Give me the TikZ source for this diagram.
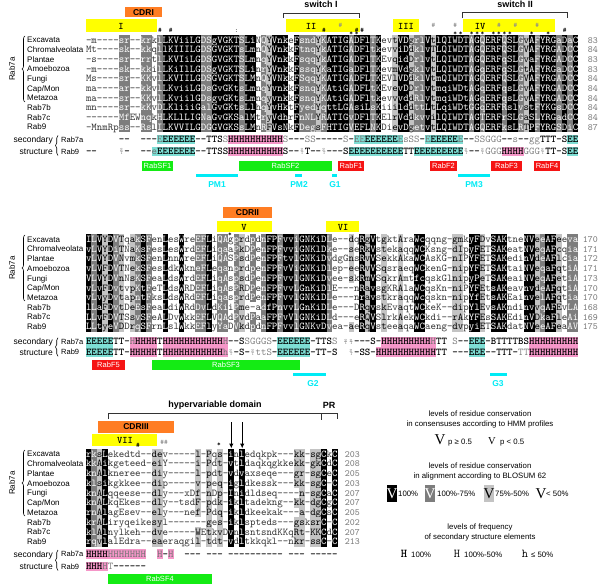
\documentclass[tikz,border=0pt]{standalone}
\usepackage{fontspec}
\setmainfont{Liberation Sans}
\newfontfamily\serifV{Liberation Serif}
\usetikzlibrary{decorations.pathreplacing,arrows.meta}
\definecolor{cyel}{RGB}{255,255,0}
\definecolor{corg}{RGB}{255,125,35}
\definecolor{cgrn}{RGB}{20,235,20}
\definecolor{cred}{RGB}{245,20,20}
\definecolor{ccyb}{RGB}{0,235,245}
\definecolor{csse}{RGB}{125,222,212}
\definecolor{cssh}{RGB}{245,150,200}
\definecolor{cgd}{RGB}{125,125,125}
\definecolor{cgl}{RGB}{195,195,195}
\def\cw{5.47}
\tikzset{
  seqc/.style={anchor=base,inner sep=0pt,font=\fontsize{10.4}{10}\ttfamily},
  ssb/.style={anchor=base,inner sep=0pt,font=\fontsize{10.4}{10}\ttfamily\bfseries,text=black},
  labf/.style={anchor=base west,inner sep=0pt,font=\fontsize{8}{9}\selectfont},
  numf/.style={anchor=base east,inner sep=0pt,font=\fontsize{9.5}{10}\ttfamily,text=black!55},
  boxlab/.style={inner sep=0pt,font=\fontsize{8.5}{9}\selectfont\bfseries},
  romlab/.style={inner sep=0pt,font=\fontsize{10}{10}\ttfamily\bfseries},
  featlab/.style={inner sep=0pt,text=white,font=\fontsize{7.5}{8}\selectfont},
  cylab/.style={inner sep=0pt,text=ccyb,font=\fontsize{8.5}{9}\selectfont\bfseries},
  legf/.style={inner sep=0pt,font=\fontsize{7.8}{9}\selectfont},
  brk/.style={line width=0.8pt,black!80},
  markb/.style={inner sep=0pt,font=\fontsize{7}{7}\ttfamily\bfseries},
  markg/.style={inner sep=0pt,font=\fontsize{7}{7}\ttfamily\bfseries,text=black!45},
}
\newcommand\cellbox[3]{\fill[#1] ({#2-2.76},{#3-4.87}) rectangle ({#2+2.76},{#3+4.87});}
\newcommand\cellb[3]{\cellbox{black}{#1}{#2}\node[seqc,text=white] at (#1,{#2+3.2}) {#3};}
\newcommand\celld[3]{\cellbox{cgd}{#1}{#2}\node[seqc,text=white] at (#1,{#2+3.2}) {#3};}
\newcommand\celll[3]{\cellbox{cgl}{#1}{#2}\node[seqc,text=black] at (#1,{#2+3.2}) {#3};}
\newcommand\celln[3]{\node[seqc,text=black!80] at (#1,{#2+3.2}) {#3};}
\newcommand\rssE[3]{\cellbox{csse}{#1}{#2}\node[ssb] at (#1,{#2+3.2}) {E};}
\newcommand\rssF[3]{\cellbox{csse}{#1}{#2}\node[seqc,text=black!55] at (#1,{#2+3.2}) {E};}
\newcommand\rsse[3]{\cellbox{csse}{#1}{#2}\node[seqc,text=black!55] at (#1,{#2+3.2}) {e};}
\newcommand\rssH[3]{\cellbox{cssh}{#1}{#2}\node[ssb] at (#1,{#2+3.2}) {H};}
\newcommand\rssI[3]{\cellbox{cssh}{#1}{#2}\node[seqc,text=black!55] at (#1,{#2+3.2}) {H};}
\newcommand\rssh[3]{\cellbox{cssh}{#1}{#2}\node[seqc,text=black!55] at (#1,{#2+3.2}) {h};}
\newcommand\rssx[3]{\node[seqc,text=black!50] at (#1,{#2+3.2}) {S};}
\newcommand\rssy[3]{\node[seqc,text=black!50] at (#1,{#2+3.2}) {T};}
\newcommand\rssz[3]{\node[seqc,text=black!50] at (#1,{#2+3.2}) {G};}
\newcommand\rssgray[3]{\node[seqc,text=black!50] at (#1,{#2+3.2}) {#3};}
\newcommand\rssbold[3]{\node[ssb] at (#1,{#2+3.2}) {#3};}
\newcommand\rssnone[3]{}
\newcommand\rssw[3]{\node[inner sep=0pt,text=black!50,font=\fontsize{5}{5}\ttfamily] at (#1,#2) {\raisebox{1.3pt}{S}\kern-2.2pt\raisebox{-1.3pt}{T}};}

\ExplSyntaxOn
\int_new:N \l__rs_col_int
\tl_new:N \l__rs_x_tl
\tl_new:N \l__rs_code_tl
\str_new:N \l__rs_codes_str
\cs_generate_variant:Nn \str_case:nnF { V }
\NewDocumentCommand \seqrow { m m m m }
  {
    \int_zero:N \l__rs_col_int
    \str_set:Nx \l__rs_codes_str {#4}
    \str_map_inline:nn {#3}
      {
        \int_incr:N \l__rs_col_int
        \tl_set:Nx \l__rs_x_tl { \fp_eval:n { #1 + ( \l__rs_col_int - 0.5 ) * \cw } }
        \tl_set:Nx \l__rs_code_tl { \str_item:Nn \l__rs_codes_str { \l__rs_col_int } }
        \str_if_eq:nnTF {##1} {-}
          { \celln }
          { \str_case:VnF \l__rs_code_tl { {b}{\cellb} {d}{\celld} {l}{\celll} } { \celln } }
          { \l__rs_x_tl } {#2} {##1}
      }
  }
\NewDocumentCommand \ssrow { m m m }
  {
    \int_zero:N \l__rs_col_int
    \str_map_inline:nn {#3}
      {
        \int_incr:N \l__rs_col_int
        \tl_set:Nx \l__rs_x_tl { \fp_eval:n { #1 + ( \l__rs_col_int - 0.5 ) * \cw } }
        \str_case:nnF {##1}
          { {E}{\rssE} {F}{\rssF} {e}{\rsse} {H}{\rssH} {I}{\rssI} {h}{\rssh}
            {x}{\rssx} {y}{\rssy} {z}{\rssz} {w}{\rssw} {.}{\rssnone}
            {s}{\rssgray} {t}{\rssgray} {g}{\rssgray} }
          { \rssbold }
          { \l__rs_x_tl } {#2} {##1}
      }
  }
\ExplSyntaxOff

\def\codeA{nnnnnnddnnddndbbbbbbbddbbbbbdbbndlbbbnbdddldbbbbdbbbdbnnlbblddblbbbbbbdbdbbbdbbdlbdbbbdbdb}
\def\codeB{bdblbdlnldbdnnbnnbnnddbnddndlndndbbdbbdbbbbbdnnnlnblbnlnnlnnbbnnnnnllnbblnbbbnnnbbldbblndd}
\def\codeC{bdlbnnnnnnnnllnnnnnnlnlnlnbnbnnnnnnnnnllnllbnb}

\newcommand\rowlabels[2]{%
  \foreach \nm [count=\i from 0] in {Excavata,Chromalveolata,Plantae,Amoebozoa,Fungi,Cap/Mon,Metazoa,Rab7b,Rab7c,Rab9}
    \node[labf] at (27,{#1+\i*#2+2.9}) {\nm};}
\newcommand\rowgroup[3]{%
  \node[rotate=90,inner sep=0pt,font=\fontsize{8}{9}\selectfont] at (12,#2) {Rab7a};
  \draw[decorate,decoration={brace,amplitude=3pt},line width=0.6pt] (25,#3) -- (25,#1);}
\newcommand\sslabels[2]{%
  \node[anchor=base east,inner sep=0pt,font=\fontsize{8.5}{9}\selectfont] at (53,{#1+3}) {secondary};
  \node[anchor=base east,inner sep=0pt,font=\fontsize{8.5}{9}\selectfont] at (53,{#2+3}) {structure};
  \draw[decorate,decoration={brace,amplitude=2.5pt},line width=0.6pt] (58,{#2+4}) -- (58,{#1-4});
  \node[anchor=base west,inner sep=0pt,font=\fontsize{7.5}{8}\selectfont] at (61,{#1+2.7}) {Rab7a};
  \node[anchor=base west,inner sep=0pt,font=\fontsize{7.5}{8}\selectfont] at (61,{#2+2.7}) {Rab9};}

\begin{document}
\begin{tikzpicture}[x=1pt,y=-1pt]
\useasboundingbox (0,0) rectangle (600,585);
\fill[white] (0,0) rectangle (600,585);

% ===== Block 1 =====
\fill[corg] (125,7) rectangle (162,17.5); \node[boxlab] at (143.5,12.3) {CDRI};
\fill[cyel] (86,19.5) rectangle (157,32); \node[romlab] at (121,26) {I};
\fill[cyel] (286,19.5) rectangle (360,32); \node[romlab] at (311,26) {II};
\fill[cyel] (393,19.5) rectangle (419,32); \node[romlab] at (406,26) {III};
\fill[cyel] (463,19.5) rectangle (555,32); \node[romlab] at (480,26) {IV};
\node[boxlab,font=\fontsize{9}{9}\selectfont\bfseries] at (321,4.5) {switch I};
\draw[brk] (283,18) -- (283,13) -- (359,13) -- (359,18);
\node[boxlab,font=\fontsize{9}{9}\selectfont\bfseries] at (515,4.5) {switch II};
\draw[brk] (462,18) -- (462,12.5) -- (567,12.5) -- (567,18);
% marks
\foreach \c in {13,15,43,49,50,87} \node[markb] at ({86+(\c+0.5)*5.47},30.5) {\#};
\foreach \c in {48,49,67,68,70,71,72,74,75,76,77,81,84} \node[markb] at ({86+(\c+0.5)*5.47},34) {*};
\foreach \c in {46,63,67,75,78,82} \node[markg] at ({86+(\c+0.5)*5.47},25.5) {\#};
\node[markb] at ({86+27.5*5.47},30.5) {:};

\rowgroup{36}{69}{102}
\rowlabels{40}{9.65}
\seqrow{86}{40}{-m----sr--krklLKViiLGDSgVGKTSLiNQYVnkeFsndYKATIGADFlTKevtVDgrlVtlQIWDTAGQERFQSLGvAFYRGaDaC}{\codeA}
\seqrow{86}{49.65}{Mt----sk--kkqllKIIILGDSGVGKTsLmnQYVnkkFtnqYkATIGADFltkevviDdklvTLQIWDTAGQERFQSLGVAFYRGADCC}{\codeA}
\seqrow{86}{59.3}{-s----sr--rrtlLKVIiLGDSGVGKTSLmnqYVnkkFsqqYkATIGADFlTKEvqidDrlvtLQIWDTAGQERFqSLGvaFYRGADCC}{\codeA}
\seqrow{86}{68.95}{-m----sk--kkilLKiIlLGDSgVGKTSLinrYVnkkFssqYKaTIGaDFlTKevmVdgklvtLQIWDTAGqERFqSLGtAFYRGaDCC}{\codeA}
\seqrow{86}{78.6}{Ms----sr--KKvlLKVIILGDSGVGKTSLMnQYVNkkFSqqYKATIGADFLTKEVlVDdklVtmQIWDTAGQERFQSLGVAFYRGADCC}{\codeA}
\seqrow{86}{88.25}{ma----ar--kkvlLKviiLGDsGvGKtsLmnqYvnkkFsnqYKAtiGADFLtKEvevDDrlvtmqiWDtAGqERFqsLGvAFYRGADCC}{\codeA}
\seqrow{86}{97.9}{ma----sr--KKvlLKviilGDsgvGKtsLmnqyvnkkFsnqYKAtiGADFltkevvvddRlvtmqiWDtAGqERFqsLGvAFYRGADCC}{\codeA}
\seqrow{86}{107.55}{mn----sr--kKvDLKliiiGalGvGKtsLlhqYvHktFyedYqttLGAsiLsKiiilddttLtLqiWDtGGqERFRslvstFYKGsDCC}{\codeA}
\seqrow{86}{117.2}{------MfEWnqkHLKLlLIGNaGvGKSalMtryVdhrFnNLYRATIGvDFlTKElrVddkvvilQIWDTAGTERFrSLGaSLYRGadCC}{\codeA}
\seqrow{86}{126.85}{-MnmRpss--RslILKVVILGDGGVGKSsLMnRFVsNkFDegsFHTIGVEFLNKDievDgetvtLQIWDTAGQERFksLRTPFYRGSDiC}{\codeA}
\foreach \v [count=\i from 0] in {83,84,83,83,84,84,84,84,84,87}
  \node[numf] at (598,{40+\i*9.65+3.2}) {\v};

\sslabels{139.5}{151.5}
\ssrow{86}{139.5}{......--..---FEEEEEE--TTSxHHHHHHHHHHx---xx-----x-FFEEEEEEFsxx-FEEEEEF--xxzzz--s--ggTTT-SEE}
\ssrow{86}{151.5}{--....w-..--eEEEEEEE--TTSSHHHHHHHHHHS--wT--w---SEEEEEEEEEETTEEEEEEEEEw--wzzzHHHHzzzwTT-SEE}

\fill[cgrn] (142,161) rectangle (173,171); \node[featlab] at (157.5,166) {RabSF1};
\fill[cgrn] (239,161) rectangle (332,171); \node[featlab] at (285.5,166) {RabSF2};
\fill[cred] (338,161) rectangle (364,171); \node[featlab] at (351,166) {RabF1};
\fill[cred] (430,161) rectangle (457,171); \node[featlab] at (443.5,166) {RabF2};
\fill[cred] (491,161) rectangle (522,171); \node[featlab] at (506.5,166) {RabF3};
\fill[cred] (534,161) rectangle (560,171); \node[featlab] at (547,166) {RabF4};
\fill[ccyb] (196,174) rectangle (238,177.5); \node[cylab] at (217,184.5) {PM1};
\fill[ccyb] (295,174) rectangle (302,177.5); \node[cylab] at (299,184.5) {PM2};
\fill[ccyb] (332,174) rectangle (337,177.5); \node[cylab] at (335,184.5) {G1};
\fill[ccyb] (458,174) rectangle (490,177.5); \node[cylab] at (474,184.5) {PM3};

% ===== Block 2 =====
\fill[corg] (223,207) rectangle (272,218); \node[boxlab] at (247.5,212.5) {CDRII};
\fill[cyel] (217,221) rectangle (272,232.5); \node[romlab] at (244,227) {V};
\fill[cyel] (326,221) rectangle (359,232.5); \node[romlab] at (343,227) {VI};
\node[markb] at (230,234.5) {*};

\rowgroup{235}{268}{301}
\rowlabels{239.3}{9.71}
\seqrow{86}{239.3}{ILVYDVTqakSFenLesWreEFLiQAgprdpdnFPFvviGNKiDLe--dqRgVtgktAraWcqqng-gmkyFDvSAKtneNVeeAFeeva}{\codeB}
\seqrow{86}{249.01}{vLVYDiTNaKsFesLesWrdEFLiqaaPkDPenFPFvviGNKlDke--seRkVstekaqqWCKsng-dIpyFETSAKeatNVeqAFcqia}{\codeB}
\seqrow{86}{258.72}{vLVYDVNvmkSFenLnnWreEFLiQASPsdPenFPFtvlGNKiDvdgGnsRvVSekkAkaWCAsKG-nIPYFETSAKedinVdeAFlcia}{\codeB}
\seqrow{86}{268.43}{vLVFDVTNekSFesLdkWkneFLeqanprdpenFPFvViGNKiDlep-eeRvVSqsraeqWCkenG-nipYFETSAKtaiNVeqaFqtiA}{\codeB}
\seqrow{86}{278.14}{VLVYDVnNsKSFeaLdsWrdEFLiqAspsdPenFPFvvlGNKiDvee-skRmVSqkrAmtfcqskGlnipyPeTSAKeaiNVeqAFetiA}{\codeB}
\seqrow{86}{287.85}{vLvFDvtvpKtFeTLdsWRDEFLiqAsPRDPenFPFvvLGnKiDlE---nRavsgKRAlaWCqsKn-niPYFEtsAKeavnvdeAFqtiA}{\codeB}
\seqrow{86}{297.56}{vLvyDvtapntFksLdsWRdEFLiqasprdPenFPFvvlGNKiDLe---nravstkraqqWcqskn-nipYfEtsAKEainvelAFqtia}{\codeB}
\seqrow{86}{307.27}{lLaFDvtDeEsFeaLdiWRdDvLdKiiPme-adfPnvvLGnKiDLe---DRqvskEvaqtWCkeK--dipYlEvsAKndinvvqAFEvLA}{\codeB}
\seqrow{86}{316.98}{LLvFDVTSsvSFeALDvWkkEFLVQAdPvdPaaFPFvVlGNKiDLd---eRQVSlrkAekWCkdi--rAkYFEsSAKEdinVDkaFleAi}{\codeB}
\seqrow{86}{326.69}{LLtyeVDDrqSFrnLslWkkEFlyYaDVkdpdnFPFvvlGNKvDvea-aeRqVsteeaqaWCaeng-dvpyiETSAKdatNVeeAFeaAV}{\codeB}
\foreach \v [count=\i from 0] in {170,171,172,171,173,170,170,168,169,175}
  \node[numf] at (598,{239.3+\i*9.71+3.2}) {\v};

\sslabels{341.8}{352.3}
\ssrow{86}{341.8}{EEEEETT-IHHHHTHHHHHHHHHHHI--Sxzzzx-EEEEEE-TTSx.ww---S-HHHHHHHHHITT.x--EEE-BTTTTBSHHHHHHHHH}
\ssrow{86}{352.3}{EEEEETT-HHHHHTHHHHHHHHHHHhw-S-wttx-EEEEEE-TT-S..w-SS-HHHHHHHHHHHTT.---EEE--TTT-yyHHHHHHHHH}

\fill[cred] (92,360) rectangle (125,370); \node[featlab] at (108.5,365) {RabF5};
\fill[cgrn] (152,360) rectangle (300,370); \node[featlab] at (226,365) {RabSF3};
\fill[ccyb] (293,373) rectangle (326,376.5); \node[cylab] at (313,384) {G2};
\fill[ccyb] (490,373) rectangle (507,376.5); \node[cylab] at (498,384) {G3};

% ===== Block 3 =====
\node[boxlab,font=\fontsize{9}{9}\selectfont\bfseries] at (215,405.5) {hypervariable domain};
\draw[brk] (108,419) -- (108,413) -- (321,413) -- (321,420);
\node[boxlab,font=\fontsize{9}{9}\selectfont\bfseries] at (329,405.5) {PR};
\draw[brk] (321,413) -- (337,413) -- (337,419);
\fill[corg] (98,421) rectangle (174,432.5); \node[boxlab] at (136,427) {CDRIII};
\fill[cyel] (92,434) rectangle (157,446); \node[romlab] at (125,440) {VII};
\node[markb] at (138,445) {\#};
\node[markg] at (164,442) {\#\#};
\node[markb] at (219,445) {*};
\draw[-{Latex[length=5pt,width=4.5pt]},line width=1.2pt] (231.3,422) -- (231.3,448.5);
\draw[-{Latex[length=5pt,width=4.5pt]},line width=1.2pt] (242.2,422) -- (242.2,448.5);

\rowgroup{450}{483}{516}
\rowlabels{454}{9.74}
\seqrow{86}{454}{rksLekedtd--dev-----l-Pqs-inledqkpk---kk-sgCkC}{\codeC}
\seqrow{86}{463.74}{kkAikgeteed-eiY-----i-Pdt-vtldaqkqgkkekk-gkCdC}{\codeC}
\seqrow{86}{473.48}{knAlkneree--diy-----l-pdt-vdvaxseqe---gr-sgCeC}{\codeC}
\seqrow{86}{483.22}{klsikgkkee--dip-----v-peq-igldkessk---kk-sgC-C}{\codeC}
\seqrow{86}{492.96}{knALqqeese--dly---xDf-nDp-Inidldseq----n-sgCaC}{\codeC}
\seqrow{86}{502.7}{knALkqEkes--dly--tsdF-pdk-ikltadekng--kk-dgCgC}{\codeC}
\seqrow{86}{512.44}{rnAlagEsev--ely---nef-Pdq-ikldkeekak---a-dgCsC}{\codeC}
\seqrow{86}{522.18}{krALiryqeikesyl-------ges-iklspteds---gsksrC-C}{\codeC}
\seqrow{86}{531.92}{klAlnylkeh--dve-----WEtkvDvnlsntsndKKqRt-KKCdC}{\codeC}
\seqrow{86}{541.66}{rqvlalEdra--eaeraqgil-tdt-vdltkkqkl--nkr-ssC-C}{\codeC}
\foreach \v [count=\i from 0] in {203,208,205,203,207,207,205,202,207,213}
  \node[numf] at (360,{454+\i*9.74+3.2}) {\v};

\sslabels{554}{566.5}
\ssrow{86}{554}{HHHHIIIIIII..I-I..---.---.----------.---.-----}
\ssrow{86}{566.5}{HHHIy------}
\fill[cgrn] (108,574) rectangle (212,584); \node[featlab] at (160,579) {RabSF4};

% ===== Legend =====
\node[legf] at (480,414) {levels of residue conservation};
\node[legf] at (480,424) {in consensuses according to HMM profiles};
\node[inner sep=0pt,anchor=base,font=\fontsize{15}{15}\serifV] at (440,444) {V};
\node[legf,anchor=base west] at (448,444) {p ≥ 0.5};
\node[inner sep=0pt,anchor=base,font=\fontsize{10.5}{10}\serifV] at (492,444) {V};
\node[legf,anchor=base west] at (500,444) {p < 0.5};

\node[legf] at (480,465.5) {levels of residue conservation};
\node[legf] at (480,476) {in alignment according to BLOSUM 62};
\fill[black] (387,485) rectangle (397,502);
\node[inner sep=0pt,anchor=base,text=white,font=\fontsize{15}{15}\serifV] at (392,498.5) {V};
\node[legf,anchor=base west] at (398,496) {100\%};
\fill[cgd] (425,485) rectangle (435,502);
\node[inner sep=0pt,anchor=base,text=white,font=\fontsize{15}{15}\serifV] at (430,498.5) {V};
\node[legf,anchor=base west] at (437,496) {100\%-75\%};
\fill[cgl] (484,485) rectangle (494,502);
\node[inner sep=0pt,anchor=base,font=\fontsize{15}{15}\serifV] at (489,498.5) {V};
\node[legf,anchor=base west] at (495,496) {75\%-50\%};
\node[inner sep=0pt,anchor=base,font=\fontsize{15}{15}\serifV] at (541,498.5) {V};
\node[legf,anchor=base west] at (546,496) {< 50\%};

\node[legf] at (480,527) {levels of frequency};
\node[legf] at (480,537) {of secondary structure elements};
\node[inner sep=0pt,anchor=base,font=\fontsize{12}{12}\ttfamily\bfseries] at (404,557.5) {H};
\node[legf,anchor=base west] at (411,557) {100\%};
\node[inner sep=0pt,anchor=base,font=\fontsize{12}{12}\ttfamily] at (457,557.5) {H};
\node[legf,anchor=base west] at (464,557) {100\%-50\%};
\node[inner sep=0pt,anchor=base,font=\fontsize{12}{12}\ttfamily] at (525,557.5) {h};
\node[legf,anchor=base west] at (531,557) {≤ 50\%};
\end{tikzpicture}
\end{document}
